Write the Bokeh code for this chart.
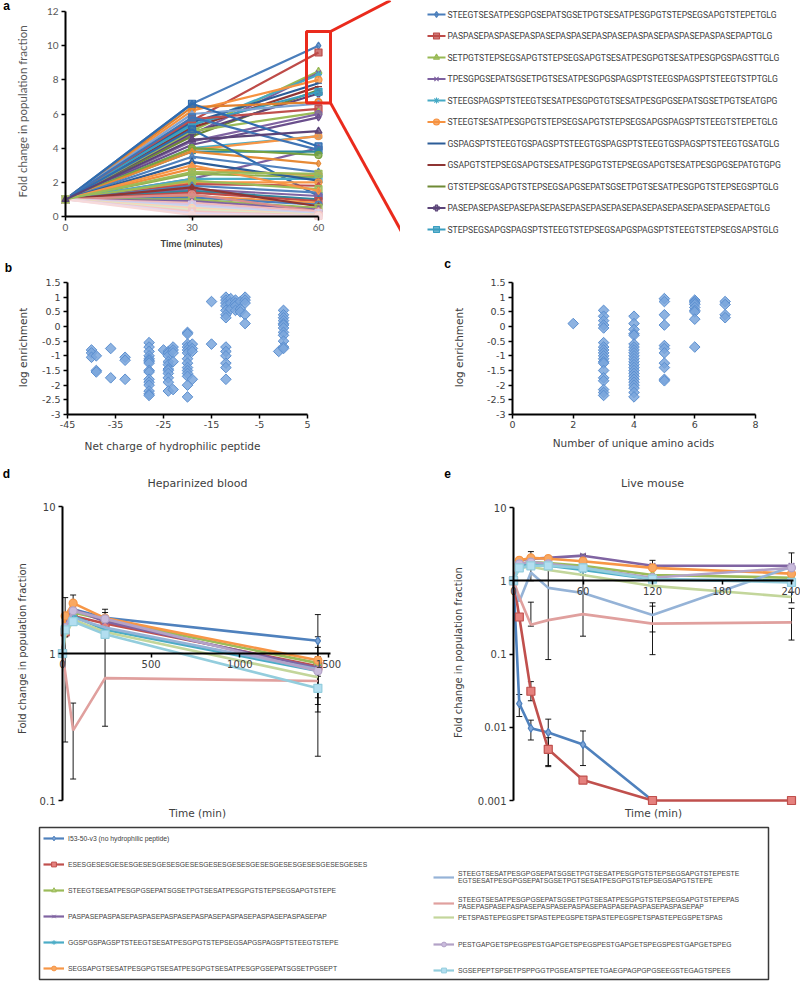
import numpy as np
from bokeh.plotting import figure
from bokeh.models import (Range1d, Label, Legend, LegendItem, Whisker, TeeHead,
                          ColumnDataSource, FixedTicker, CustomJSTickFormatter)
from bokeh.core.properties import value
from bokeh.layouts import column, row
from bokeh.embed import file_html
from bokeh.resources import INLINE

# ---------------- Panel a : fold change over time ----------------
a_times = [0, 30, 60]
a_v30 = [6.6, 5.6, 5.0, 4.8, 5.3, 6.2, 5.5, 5.2, 4.7, 4.9, 5.4,
         6.4, 6.0, 5.7, 5.0, 4.4, 4.2, 6.6, 4.0, 3.9, 2.2, 5.8, 3.8, 4.0, 3.8,
         5.1, 3.5, 2.8, 2.5, 2.2, 3.2, 2.0, 1.9, 2.1, 1.8, 1.6, 1.5, 1.4, 1.2,
         1.1, 1.7, 1.0, 0.9, 1.3, 0.8, 0.7, 0.6, 0.5, 0.4, 0.3, 0.2, 0.1, 3.0, 2.6, 4.5]
a_v60 = [10.0, 9.6, 8.5, 8.4, 8.3, 8.0, 7.8, 7.6, 7.4, 7.2, 7.3,
         6.7, 6.6, 6.3, 6.1, 6.0, 5.8, 4.1, 4.7, 4.7, 4.0, 3.9, 3.8, 3.6, 3.1,
         1.2, 2.6, 2.4, 2.3, 2.2, 2.1, 2.0, 1.8, 1.6, 1.4, 1.2, 1.0, 0.9, 0.8,
         0.7, 0.6, 0.5, 0.4, 0.3, 0.3, 0.2, 0.15, 0.1, 0.08, 0.05, 0.03, 0.02, 1.5, 2.5, 5.0]
a_colors = ["#4a7ebb", "#be4b48", "#98b954", "#7d60a0", "#46aac5", "#f69240",
            "#2c5d98", "#8e3533", "#6f8a35", "#5b4478", "#3a9ec0",
            "#e0822f", "#7ea3d3", "#c0504d", "#9bbb59", "#8064a2", "#6a4f8c",
            "#2f6cb0", "#4bacc6", "#f79646", "#7d60a0", "#3f74b5", "#2e8a9c", "#77a33f", "#e68a36",
            "#2f6cb0", "#4f81bd", "#f28e3c", "#8fb04e", "#4bacc6", "#2c5d98", "#f79646",
            "#c0504d", "#9bbb59", "#4f81bd", "#8064a2", "#31859c", "#be4b48", "#f79646",
            "#4a7ebb", "#8e3533", "#9bbb59", "#8064a2", "#d98c8a",
            "#f2b9b7", "#d4c5e6", "#c6d9ef", "#fbd3b4", "#dde9c6", "#f4c6c6", "#e3d8ee", "#f7dada",
            "#f79646", "#9bbb59", "#5b4478"]
a_markers_top = ["diamond", "square", "triangle", "x", "asterisk", "circle",
                 "dash", "dash", "dash", "plus", "square"]
a_markers_rest = ["diamond", "square", "triangle", "circle"]
a_legend = [
    "STEEGTSESATPESGPGSEPATSGSETPGTSESATPESGPGTSTEPSEGSAPGTSTEPETGLG",
    "PASPASEPASPASEPASPASEPASPASEPASPASEPASPASEPASPASEPASPASEPAPTGLG",
    "SETPGTSTEPSEGSAPGTSTEPSEGSAPGTSESATPESGPGTSESATPESGPGSPAGSTTGLG",
    "TPESGPGSEPATSGSETPGTSESATPESGPGSPAGSPTSTEEGSPAGSPTSTEEGTSTPTGLG",
    "STEEGSPAGSPTSTEEGTSESATPESGPGTGTSESATPESGPGSEPATSGSETPGTSEATGPG",
    "STEEGTSESATPESGPGTSTEPSEGSAPGTSTEPSEGSAPGSPAGSPTSTEEGTSTEPETGLG",
    "GSPAGSPTSTEEGTGSPAGSPTSTEEGTGSPAGSPTSTEEGTGSPAGSPTSTEEGTGSATGLG",
    "GSAPGTSTEPSEGSAPGTSESATPESGPGTSTEPSEGSAPGTSESATPESGPGSEPATGTGPG",
    "GTSTEPSEGSAPGTSTEPSEGSAPGSEPATSGSETPGTSESATPESGPGTSTEPSEGSPTGLG",
    "PASEPASEPASEPASEPASEPASEPASEPASEPASEPASEPASEPASEPASEPASEPAETGLG",
    "STEPSEGSAPGSPAGSPTSTEEGTSTEPSEGSAPGSPAGSPTSTEEGTSTEPSEGSAPSTGLG",
]

# ---------------- Panel b : log enrichment vs net charge ----------------
b_charge = ([-40] * 3 + [-39] * 3 + [-36] * 2 + [-33] * 3 + [-28] * 16 + [-25] * 1 +
            [-24] * 11 + [-23] * 5 + [-20] * 14 + [-19] * 4 + [-15] * 2 + [-12] * 13 +
            [-11] * 3 + [-10] * 4 + [-9] * 3 + [-8] * 5 + [-1] * 1 + [0] * 12)
b_log = [-0.8, -0.9, -1.05, -1.0, -1.5, -1.55, -0.75, -1.75, -1.05, -1.15, -1.8,
         -0.55, -0.7, -0.85, -1.0, -1.1, -1.15, -1.2, -1.25, -1.5, -1.55, -1.8, -1.9, -2.0, -2.2, -2.3, -2.35,
         -0.8,
         -0.85, -0.9, -1.0, -1.2, -1.3, -1.45, -1.5, -1.6, -1.75, -1.9, -2.2,
         -0.7, -0.8, -0.9, -1.2, -2.15,
         -0.2, -0.25, -0.6, -0.7, -0.8, -0.9, -1.1, -1.25, -1.4, -1.5, -1.6, -1.7, -2.0, -2.4,
         -0.6, -0.75, -0.85, -1.8,
         0.85, -0.6,
         1.0, 0.9, 0.8, 0.7, 0.55, 0.4, 0.3, -0.7, -0.85, -1.0, -1.25, -1.4, -1.8,
         0.95, 0.8, 0.6,
         0.9, 0.8, 0.7, 0.55,
         0.85, 0.6, 0.5,
         1.0, 0.9, 0.8, 0.4, 0.1,
         -0.85,
         0.55, 0.4, 0.3, 0.2, 0.1, 0.05, -0.05, -0.2, -0.3, -0.5, -0.7, -0.75]

# ---------------- Panel c : log enrichment vs unique amino acids ----------------
c_unique = [2] * 1 + [3] * 19 + [4] * 23 + [5] * 11 + [6] * 9 + [7] * 4
c_log = [0.1,
         0.55, 0.35, 0.2, 0.05, -0.05, -0.55, -0.7, -0.8, -0.9, -1.0, -1.1, -1.2, -1.25, -1.5, -1.75, -1.85, -2.15, -2.25, -2.35,
         0.35, 0.1, -0.1, -0.25, -0.3, -0.6, -0.7, -0.8, -0.9, -1.0, -1.1, -1.2, -1.3, -1.4, -1.5, -1.6, -1.7, -1.8, -1.9, -2.0, -2.1, -2.25, -2.4,
         0.95, 0.85, 0.4, 0.05, -0.65, -0.75, -0.9, -1.25, -1.4, -1.8, -1.85,
         0.9, 0.85, 0.8, 0.75, 0.65, 0.55, 0.5, 0.25, -0.7,
         0.85, 0.75, 0.4, 0.3]
scatter_ticks_y = [-3, -2.5, -2, -1.5, -1, -0.5, 0, 0.5, 1, 1.5]
b_ticks_x = [-45, -35, -25, -15, -5, 5]
c_ticks_x = [0, 2, 4, 6, 8]

# ---------------- Panels d / e : time courses ----------------
de_names = ["I53-50-v3 (no hydrophilic peptide)",
            "ESESGESESGESESGESESGESESGESESGESESGESESGESESGESESGESESGESESGESES",
            "STEEGTSESATPESGPGSEPATSGSETPGTSESATPESGPGTSTEPSEGSAPGTSTEPE",
            "PASPASEPASPASEPASPASEPASPASEPASPASEPASPASEPASPASEPASPASEPAP",
            "GGSPGSPAGSPTSTEEGTSESATPESGPGTSTEPSEGSAPGSPAGSPTSTEEGTSTEPE",
            "SEGSAPGTSESATPESGPGTSESATPESGPGTSESATPESGPGSEPATSGSETPGSEPT",
            "STEEGTSESATPESGPGSEPATSGSETPGTSESATPESGPGTSTEPSEGSAPGTSTEPESTE\nEGTSESATPESGPGSEPATSGSETPGTSESATPESGPGTSTEPSEGSAPGTSTEPE",
            "STEEGTSESATPESGPGSEPATSGSETPGTSESATPESGPGTSTEPSEGSAPGTSTEPEPAS\nPASEPASPASEPASPASEPASPASEPASPASEPASPASEPASPASEPASPASEPAP",
            "PETSPASTEPEGSPETSPASTEPEGSPETSPASTEPEGSPETSPASTEPEGSPETSPAS",
            "PESTGAPGETSPEGSPESTGAPGETSPEGSPESTGAPGETSPEGSPESTGAPGETSPEG",
            "SGSEPEPTSPSETPSPPGGTPGSEATSPTEETGAEGPAGPGPGSEEGSTEGAGTSPEES"]
de_colors = ["#4f81bd", "#c0504d", "#9bbb59", "#8064a2", "#4bacc6", "#f79646",
             "#95b3d7", "#e0a09e", "#c3d69b", "#b3a2c7", "#93cddd"]
de_fills = ["#7ea6d8", "#e5817e", "#b5d07a", "#a48bc4", "#7dc6da", "#f9a862",
            "#95b3d7", "#e0a09e", "#c3d69b", "#c9bbdc", "#b2def0"]
de_markers = ["diamond", "square", "triangle", "x", "asterisk", "circle",
              None, None, None, "circle", "square"]

d_times = [0, 15, 60, 240, 1440]
d_vals = [[1, 1.6, 2.0, 1.75, 1.22],
          [1, 1.4, 1.8, 1.6, 0.82],
          [1, 1.5, 1.9, 1.7, 0.86],
          [1, 1.7, 2.0, 1.65, 0.80],
          [1, 1.5, 1.8, 1.45, 0.76],
          [1, 1.8, 2.2, 1.74, 0.90],
          [1, 1.4, 1.75, 1.5, 0.78],
          [1, 0.75, 0.30, 0.68, 0.65],
          [1, 1.3, 1.7, 1.4, 0.69],
          [1, 1.5, 1.95, 1.72, 0.76],
          [1, 1.45, 1.65, 1.35, 0.58]]
d_err_t = [15, 15, 60, 60, 240, 240, 1440, 1440, 1440, 1440, 1440]
d_err_lo = [1.3, 0.25, 0.14, 1.6, 0.32, 1.5, 0.2, 0.4, 0.5, 0.6, 0.45]
d_err_hi = [2.4, 1.3, 0.46, 2.5, 1.9, 2.0, 1.84, 1.3, 1.1, 0.95, 0.7]

e_times = [0, 5, 15, 30, 60, 120, 240]
e_vals = [[1, 0.021, 0.0097, 0.0085, 0.0058, 0.001, np.nan],
          [1, 0.32, 0.031, 0.005, 0.0019, 0.001, 0.001],
          [1, 1.7, 1.8, 1.75, 1.6, 1.2, 1.1],
          [1, 1.9, 2.0, 2.05, 2.2, 1.6, 1.6],
          [1, 1.6, 1.7, 1.6, 1.4, 1.05, 1.0],
          [1, 1.9, 2.05, 2.0, 1.85, 1.5, 1.25],
          [1, 0.52, 1.3, 0.8, 0.68, 0.34, 1.55],
          [1, 0.6, 0.25, 0.29, 0.35, 0.26, 0.27],
          [1, 1.5, 1.55, 1.4, 1.2, 0.85, 0.6],
          [1, 1.7, 1.8, 1.7, 1.5, 1.1, 1.5],
          [1, 1.5, 1.6, 1.6, 1.5, 1.05, 0.95]]
e_err_t = [5, 15, 15, 30, 30, 60, 15, 30, 60, 120, 120, 240, 240, 240, 15, 60, 120]
e_err_lo = [0.014, 0.0067, 0.023, 0.003, 0.0029, 0.003, 0.24, 0.084, 0.175, 0.098, 0.2, 0.155, 0.5, 1.3, 1.0, 1.2, 1.1]
e_err_hi = [0.028, 0.0125, 0.042, 0.0129, 0.0072, 0.0089, 0.51, 1.5, 1.2, 0.5, 0.45, 0.42, 0.7, 2.4, 2.5, 2.3, 1.9]

DARK = "#404040"
GRAY = "#595959"


def lin_range(p0, p1, origin_px, origin_val, scale):
    return (origin_val + (p0 - origin_px) / scale, origin_val + (p1 - origin_px) / scale)


def mapper(fl, fr, ft, fb, xr, yr, ylog=False):
    def f(px, py):
        x = xr[0] + (px - fl) / (fr - fl) * (xr[1] - xr[0])
        if ylog:
            a, b = np.log10(yr[0]), np.log10(yr[1])
            y = 10 ** (a + (fb - py) / (fb - ft) * (b - a))
        else:
            y = yr[0] + (fb - py) / (fb - ft) * (yr[1] - yr[0])
        return float(x), float(y)
    return f


def make_fig(x0, x1, y0, y1, xr, yr, ylog=False, axes=True):
    kw = {} if axes else dict(x_axis_type=None, y_axis_type=None)
    if axes and ylog:
        kw["y_axis_type"] = "log"
    p = figure(width=x1 - x0, height=y1 - y0, x_range=Range1d(*xr), y_range=Range1d(*yr),
               min_border_left=0, min_border_right=0, min_border_top=0, min_border_bottom=0,
               output_backend="svg", toolbar_location=None, **kw)
    if axes:
        p.xgrid.visible = False
        p.ygrid.visible = False
    p.outline_line_color = None
    return p, mapper(x0, x1, y0, y1, xr, yr, ylog)


def text(p, f, px, py, s, size, font="DejaVu Sans", color=DARK, angle=0.0, style="normal"):
    x, y = f(px, py)
    p.add_layout(Label(x=x, y=y, text=s, text_font=font, text_font_size=f"{size}px",
                       text_color=color, angle=angle, text_align="center",
                       text_baseline="middle", text_font_style=style))


def style_axis(ax, font, size, color, ticks, loc, bounds):
    ax.axis_line_color = "black"
    ax.axis_line_width = 2
    ax.major_tick_line_color = "black"
    ax.major_tick_line_width = 1.5
    ax.major_tick_out = 4
    ax.major_tick_in = 0
    ax.minor_tick_line_color = None
    ax.major_label_text_font = font
    ax.major_label_text_font_size = f"{size}px"
    ax.major_label_text_color = color
    ax.major_label_standoff = 3
    ax.ticker = FixedTicker(ticks=ticks)
    ax.formatter = CustomJSTickFormatter(code="return tick.toString()")
    ax.fixed_location = loc
    ax.bounds = bounds


# ================= Figure a (chart) =================
a_xr = lin_range(0, 400, 65, 0, 253 / 60.0)
a_yr = lin_range(258, 0, 216, 0, -205 / 12.0)
pa, fa = make_fig(0, 400, 0, 258, a_xr, a_yr)
style_axis(pa.xaxis[0], "Lato", 10, GRAY, a_times, 0, (0, 60))
style_axis(pa.yaxis[0], "Lato", 10, GRAY, list(range(0, 13, 2)), 0, (0, 12))

a_marker_of = []
for i in range(len(a_v30)):
    ys = [1.0, a_v30[i], a_v60[i]]
    col = a_colors[i]
    mk = a_markers_top[i] if i < len(a_markers_top) else a_markers_rest[i % len(a_markers_rest)]
    a_marker_of.append(mk)
    pa.line(a_times, ys, line_color=col, line_width=2.2)
    pa.scatter(a_times, ys, marker=mk, size=7, fill_color=col, fill_alpha=0.75,
               line_color=col, line_width=1.2)

# zoom box around the top series at 60 min and connectors towards the key
top_vals = a_v60[:len(a_legend)]
box_l, box_r = 60 - 2.85, 60 + 2.85
box_b, box_t = min(top_vals) - 0.55, max(top_vals) + 0.83
pa.quad(left=[box_l], right=[box_r], bottom=[box_b], top=[box_t], fill_color=None,
        line_color="#ea2a1c", line_width=3)
c1x, c1y = fa(390, 0)
c2x, c2y = fa(401, 231)
pa.segment(x0=[box_r, box_r], y0=[box_t, box_b], x1=[c1x, c2x], y1=[c1y, c2y],
           line_color="#ea2a1c", line_width=3)

text(pa, fa, 6, 5, "a", 12, font="Liberation Sans", color="black", style="bold")
text(pa, fa, 22, 111, "Fold change in population fraction", 11.5, font="Lato", color=GRAY, angle=np.pi / 2)
text(pa, fa, 191, 243, "Time (minutes)", 9.5, font="Lato", color=DARK, style="bold")

# ================= Figure a (key of the boxed series) =================
pk, fk = make_fig(400, 800, 0, 258, (400, 800), (258, 0), axes=False)
for i, lab in enumerate(a_legend):
    py = 14 + 21.5 * i
    gx0, gy = fk(427, py)
    gx1, _ = fk(445, py)
    gxm, _ = fk(436, py)
    tx, _ = fk(447, py)
    pk.segment(x0=[gx0], y0=[gy], x1=[gx1], y1=[gy], line_color=a_colors[i], line_width=2.2)
    pk.scatter([gxm], [gy], marker=a_marker_of[i], size=6, fill_color=a_colors[i], fill_alpha=0.75,
               line_color=a_colors[i], line_width=1.1)
    pk.text(x=[tx], y=[gy], text=[lab], text_font=value("Roboto"), text_font_size=value("8.6px"),
            text_color=DARK, text_baseline="middle", text_align="left")

# ================= Figure b =================
b_xr = lin_range(0, 400, 67, -45, 4.8)
sc_yr = lin_range(460, 258, 326, 0, -29.33)
pb, fb_ = make_fig(0, 400, 258, 460, b_xr, sc_yr)
style_axis(pb.xaxis[0], "DejaVu Sans", 9.5, DARK, b_ticks_x, -3, (-45, 5))
style_axis(pb.yaxis[0], "DejaVu Sans", 9.5, DARK, scatter_ticks_y, -45, (-3, 1.5))
pb.scatter(b_charge, b_log, marker="square", angle=np.pi / 4, size=7.5, fill_color="#7aa6dc",
           line_color="#5b8fd0", fill_alpha=0.85, line_width=1)
text(pb, fb_, 8, 267, "b", 12, font="Liberation Sans", color="black", style="bold")
text(pb, fb_, 22, 347, "log enrichment", 10.5, angle=np.pi / 2)
text(pb, fb_, 172, 445, "Net charge of hydrophilic peptide", 10.5)

# ================= Figure c =================
c_xr = lin_range(400, 800, 512, 0, 30.375)
pc, fc = make_fig(400, 800, 258, 460, c_xr, sc_yr)
style_axis(pc.xaxis[0], "DejaVu Sans", 9.5, DARK, c_ticks_x, -3, (0, 8))
style_axis(pc.yaxis[0], "DejaVu Sans", 9.5, DARK, scatter_ticks_y, 0, (-3, 1.5))
pc.scatter(c_unique, c_log, marker="square", angle=np.pi / 4, size=7.5, fill_color="#7aa6dc",
           line_color="#5b8fd0", fill_alpha=0.85, line_width=1)
text(pc, fc, 447, 263, "c", 12, font="Liberation Sans", color="black", style="bold")
text(pc, fc, 458, 347, "log enrichment", 10.5, angle=np.pi / 2)
text(pc, fc, 633, 442, "Number of unique amino acids", 10.5)


def time_course(p, times, vals, et, elo, ehi, xbounds, ybounds, xticks, yticks):
    style_axis(p.xaxis[0], "DejaVu Sans", 10, DARK, xticks, 1, xbounds)
    style_axis(p.yaxis[0], "DejaVu Sans", 10, DARK, yticks, 0, ybounds)
    p.xaxis.major_label_standoff = 2
    for i, ys in enumerate(vals):
        p.line(times, ys, line_color=de_colors[i], line_width=2.6)
        if de_markers[i]:
            p.scatter(times, ys, marker=de_markers[i], size=8, fill_color=de_fills[i],
                      line_color=de_colors[i], line_width=1.2)
    src = ColumnDataSource(dict(t=et, lo=elo, hi=ehi))
    w = Whisker(source=src, base="t", lower="lo", upper="hi", line_color="black", line_width=0.9,
                upper_head=TeeHead(size=6, line_color="black", line_width=0.9),
                lower_head=TeeHead(size=6, line_color="black", line_width=0.9))
    p.add_layout(w)


def log_range(p_bottom, p_top, px_at_10, px_per_decade):
    return (10 ** (1 - (p_bottom - px_at_10) / px_per_decade),
            10 ** (1 - (p_top - px_at_10) / px_per_decade))


# ================= Figure d =================
d_xr = lin_range(0, 400, 62, 0, 266 / 1500.0)
d_yr = log_range(825, 460, 506, 147.0)
pd_, fd = make_fig(0, 400, 460, 825, d_xr, d_yr, ylog=True)
time_course(pd_, d_times, d_vals, d_err_t, d_err_lo, d_err_hi, (0, 1510), (0.1, 10),
            [0, 500, 1000, 1500], [0.1, 1, 10])
text(pd_, fd, 6, 473, "d", 12, font="Liberation Sans", color="black", style="bold")
text(pd_, fd, 197, 483, "Heparinized blood", 11)
text(pd_, fd, 22, 648, "Fold change in population fraction", 10, angle=np.pi / 2)
text(pd_, fd, 197, 812, "Time (min)", 10.5)

# ================= Figure e =================
e_xr = lin_range(400, 800, 513, 0, 278 / 240.0)
e_yr = log_range(825, 460, 507, 73.25)
pe, fe = make_fig(400, 800, 460, 825, e_xr, e_yr, ylog=True)
time_course(pe, e_times, e_vals, e_err_t, e_err_lo, e_err_hi, (0, 242), (0.001, 10),
            [0, 60, 120, 180, 240], [0.001, 0.01, 0.1, 1, 10])
text(pe, fe, 447, 473, "e", 12, font="Liberation Sans", color="black", style="bold")
text(pe, fe, 652, 483, "Live mouse", 11)
text(pe, fe, 458, 652, "Fold change in population fraction", 10, angle=np.pi / 2)
text(pe, fe, 653, 812, "Time (min)", 10.5)

# ================= Legend box =================
pl = figure(width=800, height=156, x_range=Range1d(0, 1), y_range=Range1d(0, 1),
            x_axis_type=None, y_axis_type=None, min_border_left=39, min_border_right=32,
            min_border_top=2, min_border_bottom=2, output_backend="svg", toolbar_location=None)
pl.outline_line_color = "#3a3a3a"
pl.outline_line_width = 1.5
leg_items = []
for i in range(len(de_names)):
    rs = [pl.line(x=[-5, -4], y=[-5, -4], line_color=de_colors[i], line_width=2.2)]
    if de_markers[i]:
        rs.append(pl.scatter(x=[-5], y=[-5], marker=de_markers[i], fill_color=de_fills[i],
                             line_color=de_colors[i], line_width=1))
    leg_items.append(LegendItem(label=de_names[i], renderers=rs))

common = dict(glyph_width=21, glyph_height=12, label_height=10, padding=0, margin=0,
              label_standoff=4, label_text_font="Liberation Sans", label_text_font_size="6.8px",
              label_text_color=DARK, background_fill_alpha=0, border_line_color=None)
pl.add_layout(Legend(items=leg_items[:6], location=(4, 5), spacing=14, **common))
right_locs = [(394, 95.5), (394, 69.5), (394, 56), (394, 29), (394, 3)]
for k, loc in enumerate(right_locs):
    pl.add_layout(Legend(items=[leg_items[6 + k]], location=loc, spacing=0, **common))

layout = column(row(pa, pk), row(pb, pc), row(pd_, pe), pl)
open("out.html", "w").write(file_html(layout, INLINE))
